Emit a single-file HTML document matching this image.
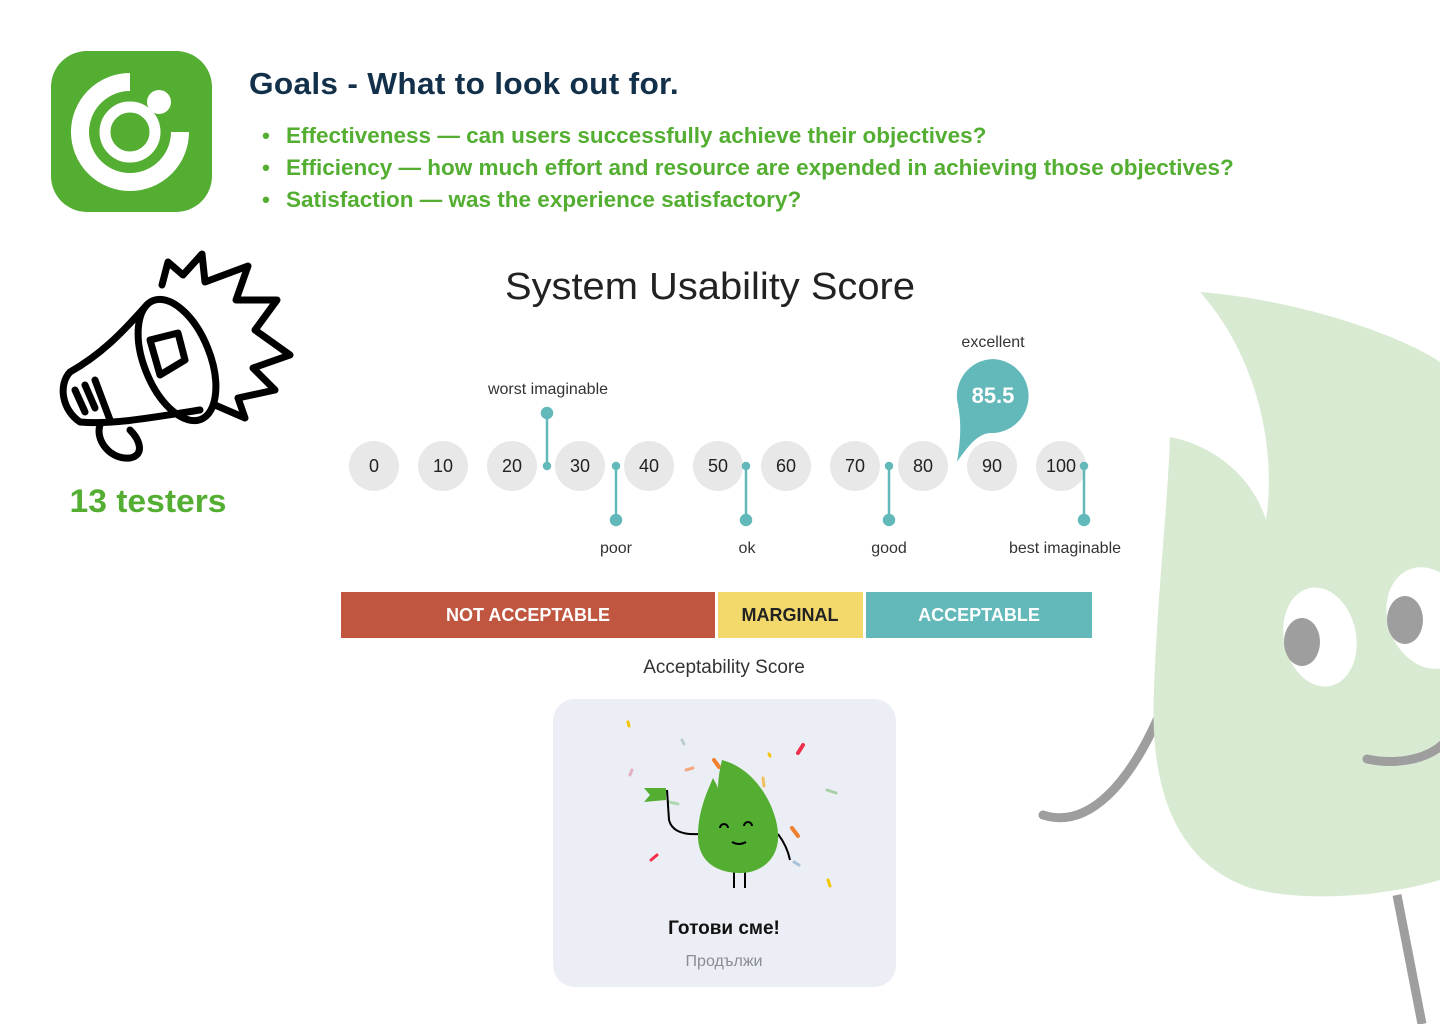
<!DOCTYPE html>
<html><head><meta charset="utf-8"><style>
html,body{margin:0;padding:0;background:#fff;}
svg{display:block}
</style></head><body>
<svg width="1440" height="1024" viewBox="0 0 1440 1024" xmlns="http://www.w3.org/2000/svg" font-family="Liberation Sans, sans-serif">
<rect width="1440" height="1024" fill="#fff"/>
<!-- right mascot -->
<path d="M1157,720 C1130,780 1090,830 1043,815" stroke="#9e9e9e" stroke-width="9" fill="none" stroke-linecap="round"/>
<path d="M1397,895 L1422,1024" stroke="#9e9e9e" stroke-width="9" fill="none"/>
<path d="M1200,292 C1300,300 1400,335 1440,362 L1440,880 C1380,898 1300,902 1250,888 C1170,860 1150,780 1154,690 C1157,600 1168,500 1170,437 C1212,445 1252,475 1266,520 C1278,440 1252,350 1200,292 Z" fill="#d9ead3"/>
<ellipse cx="1320" cy="637" rx="36" ry="50" transform="rotate(-12 1320 637)" fill="#fff"/>
<ellipse cx="1302" cy="642" rx="18" ry="24" fill="#9e9e9e"/>
<ellipse cx="1428" cy="618" rx="40" ry="52" transform="rotate(-20 1428 618)" fill="#fff"/>
<ellipse cx="1405" cy="620" rx="18" ry="24" fill="#9e9e9e"/>
<path d="M1367,759 C1395,765 1425,760 1442,745" stroke="#9e9e9e" stroke-width="9" fill="none" stroke-linecap="round"/>

<!-- logo -->
<rect x="51" y="51" width="161" height="161" rx="36" fill="#53ae32"/>
<path d="M130,82 A50,50 0 1 0 180,132" stroke="#fff" stroke-width="18" fill="none"/>
<circle cx="130" cy="132" r="25" stroke="#fff" stroke-width="11" fill="none"/>
<circle cx="159" cy="102" r="12" fill="#fff"/>

<!-- title -->
<text x="249" y="94" font-size="31" font-weight="bold" fill="#13304a" letter-spacing="0.3" textLength="430" lengthAdjust="spacingAndGlyphs">Goals - What to look out for.</text>
<g font-size="22.5" font-weight="bold" fill="#53ae32">
<text x="262" y="143">•</text><text x="286" y="143">Effectiveness — can users successfully achieve their objectives?</text>
<text x="262" y="175">•</text><text x="286" y="175">Efficiency — how much effort and resource are expended in achieving those objectives?</text>
<text x="262" y="207">•</text><text x="286" y="207">Satisfaction — was the experience satisfactory?</text>
</g>

<!-- megaphone -->
<g stroke="#000" stroke-width="7" fill="none" stroke-linejoin="round" stroke-linecap="round">
<path d="M162,285 L168,262 L183,275 L202,254 L205,282 L248,266 L236,300 L277,300 L255,330 L290,355 L253,368 L275,390 L238,398 L245,418 L215,405"/>
<ellipse cx="177" cy="360" rx="33" ry="64" transform="rotate(-22 177 360)"/>
<path d="M145,307 C120,335 100,355 70,372 C58,385 62,410 80,422 C110,425 150,418 200,410"/>
<path d="M95,380 L110,420"/>
<path d="M75,390 L85,412 M85,385 L95,408"/>
<path d="M150,340 L178,333 L185,360 L160,375 Z"/>
<path d="M100,425 C95,440 110,460 130,458 C145,455 140,440 130,430"/>
</g>
<text x="148" y="512" font-size="32" font-weight="bold" fill="#53ae32" text-anchor="middle" textLength="157" lengthAdjust="spacingAndGlyphs">13 testers</text>

<!-- SUS -->
<text x="710" y="299" font-size="38" fill="#222" text-anchor="middle" textLength="410" lengthAdjust="spacingAndGlyphs">System Usability Score</text>
<g font-size="16" fill="#333" text-anchor="middle">
<text x="993" y="347">excellent</text>
<text x="548" y="394">worst imaginable</text>
<text x="616" y="553">poor</text>
<text x="747" y="553">ok</text>
<text x="889" y="553">good</text>
<text x="1065" y="553">best imaginable</text>
</g>
<g fill="#e8e8e8">
<circle cx="374" cy="466" r="25"/><circle cx="443" cy="466" r="25"/><circle cx="512" cy="466" r="25"/><circle cx="580" cy="466" r="25"/><circle cx="649" cy="466" r="25"/><circle cx="718" cy="466" r="25"/><circle cx="786" cy="466" r="25"/><circle cx="855" cy="466" r="25"/><circle cx="923" cy="466" r="25"/><circle cx="992" cy="466" r="25"/><circle cx="1061" cy="466" r="25"/>
</g>
<g font-size="18" fill="#222" text-anchor="middle">
<text x="374" y="472">0</text><text x="443" y="472">10</text><text x="512" y="472">20</text><text x="580" y="472">30</text><text x="649" y="472">40</text><text x="718" y="472">50</text><text x="786" y="472">60</text><text x="855" y="472">70</text><text x="923" y="472">80</text><text x="992" y="472">90</text><text x="1061" y="472">100</text>
</g>
<g stroke="#63b9b9" stroke-width="2.5" fill="#63b9b9">
<line x1="547" y1="413" x2="547" y2="466"/><circle cx="547" cy="413" r="5"/><circle cx="547" cy="466" r="3"/>
<line x1="616" y1="466" x2="616" y2="520"/><circle cx="616" cy="466" r="3"/><circle cx="616" cy="520" r="5"/>
<line x1="746" y1="466" x2="746" y2="520"/><circle cx="746" cy="466" r="3"/><circle cx="746" cy="520" r="5"/>
<line x1="889" y1="466" x2="889" y2="520"/><circle cx="889" cy="466" r="3"/><circle cx="889" cy="520" r="5"/>
<line x1="1084" y1="466" x2="1084" y2="520"/><circle cx="1084" cy="466" r="3"/><circle cx="1084" cy="520" r="5"/>
</g>
<path d="M993,359 A37,37 0 1 1 990,433 C980,434 972,440 957,462 C960,445 962,425 958,405 A37,37 0 0 1 993,359 Z" fill="#63b9b9"/>
<text x="993" y="403" font-size="22" font-weight="bold" fill="#fff" text-anchor="middle">85.5</text>

<rect x="341" y="592" width="374" height="46" fill="#c0563f"/>
<rect x="718" y="592" width="145" height="46" fill="#f3d96b"/>
<rect x="866" y="592" width="226" height="46" fill="#63b9b9"/>
<g font-size="18" font-weight="bold" text-anchor="middle">
<text x="528" y="621" fill="#fff">NOT ACCEPTABLE</text>
<text x="790" y="621" fill="#222">MARGINAL</text>
<text x="979" y="621" fill="#fff">ACCEPTABLE</text>
</g>
<text x="724" y="673" font-size="19" fill="#333" text-anchor="middle">Acceptability Score</text>

<!-- card -->
<rect x="553" y="699" width="343" height="288" rx="22" fill="#eceef5"/>
<g stroke-width="3" stroke-linecap="round">
<line x1="628" y1="722" x2="629" y2="726" stroke="#f5c400"/>
<line x1="682" y1="740" x2="684" y2="744" stroke="#bcc"/>
<line x1="630" y1="775" x2="632" y2="770" stroke="#e4b0c0"/>
<line x1="686" y1="770" x2="693" y2="768" stroke="#f4a880"/>
<line x1="714" y1="760" x2="719" y2="767" stroke="#f08030" stroke-width="4"/>
<line x1="769" y1="754" x2="770" y2="756" stroke="#f5c400"/>
<line x1="798" y1="753" x2="803" y2="745" stroke="#f0304a" stroke-width="4"/>
<line x1="763" y1="778" x2="764" y2="786" stroke="#f0c060"/>
<line x1="827" y1="790" x2="836" y2="793" stroke="#a8d0a8"/>
<line x1="792" y1="828" x2="798" y2="836" stroke="#f08030" stroke-width="4"/>
<line x1="651" y1="860" x2="657" y2="855" stroke="#f0304a"/>
<line x1="794" y1="862" x2="799" y2="865" stroke="#a8c0d8"/>
<line x1="828" y1="880" x2="830" y2="886" stroke="#f5c400"/>
<line x1="669" y1="802" x2="678" y2="804" stroke="#b0d8b0"/>
</g>
<path d="M667,790 L669,820 C672,832 685,835 700,834" stroke="#000" stroke-width="2" fill="none"/>
<path d="M644,788 L666,788 L666,800 L644,802 L650,795 Z" fill="#53ae32"/>
<path d="M778,834 C784,842 788,850 790,860" stroke="#000" stroke-width="2" fill="none"/>
<path d="M734,888 L734,872 M745,888 L745,872" stroke="#000" stroke-width="2"/>
<path d="M722,760 C760,770 780,815 778,840 C776,862 758,874 738,873 C712,872 698,858 698,836 C698,810 708,790 713,778 C716,784 718,786 718,790 C718,778 720,768 722,760 Z" fill="#53ae32"/>
<path d="M720,828 a4,4 0 0 1 8,0 M744,826 a4,4 0 0 1 8,0 M732,842 q7,4 14,0" stroke="#000" stroke-width="2" fill="none"/>
<text x="724" y="934" font-size="19" font-weight="bold" fill="#111" text-anchor="middle">Готови сме!</text>
<text x="724" y="966" font-size="16" fill="#8a8d95" text-anchor="middle">Продължи</text>
</svg>
</body></html>
